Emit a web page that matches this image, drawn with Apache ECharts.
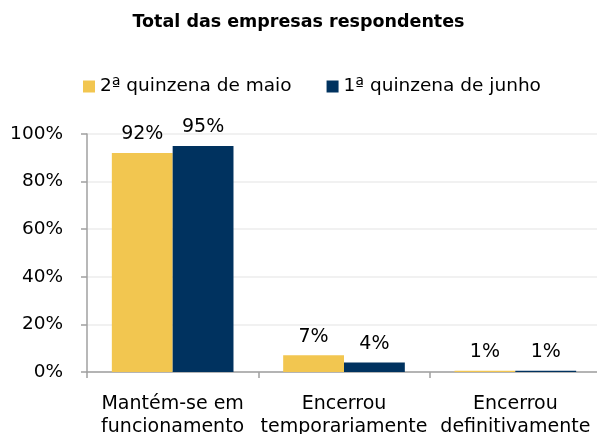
<!DOCTYPE html>
<html>
<head>
<meta charset="utf-8">
<script src="https://cdn.jsdelivr.net/npm/echarts@6/dist/echarts.min.js"></script>
<style>
html,body{margin:0;padding:0;background:#fff;}
#chart{width:597px;height:434px;}
</style>
</head>
<body>
<div id="chart"></div>
<script>
const titleText = 'Total das empresas respondentes';
const categories = ['Mantém-se em\nfuncionamento', 'Encerrou\ntemporariamente', 'Encerrou\ndefinitivamente'];
const seriesNames = ['2ª quinzena de maio', '1ª quinzena de junho'];
const maioValues = [92, 7, 0.5];
const junhoValues = [95, 4, 0.5];
const yTicks = [0, 20, 40, 60, 80, 100];
const colors = ['#F2C650', '#00325F'];

const FONT = "'DejaVu Sans', sans-serif";
const chart = echarts.init(document.getElementById('chart'), null, {renderer: 'canvas'});

function labelCfg() {
  return {
    show: true,
    position: 'top',
    distance: 9,
    fontFamily: FONT,
    fontSize: 19,
    color: '#000',
    formatter: p => Math.round(p.value) + '%'
  };
}

chart.setOption({
  animation: false,
  backgroundColor: '#fff',
  title: {
    text: titleText,
    left: 'center',
    top: 8,
    textStyle: {fontFamily: FONT, fontSize: 17.5, fontWeight: 'bold', color: '#000'}
  },
  legend: {
    data: seriesNames,
    left: 83,
    top: 77,
    padding: 0,
    itemWidth: 12,
    itemHeight: 12,
    itemGap: 35,
    icon: 'rect',
    textStyle: {fontFamily: FONT, fontSize: 18.5, color: '#000'}
  },
  grid: {left: 87, top: 134, width: 514, height: 238, containLabel: false, outerBoundsMode: 'none'},
  xAxis: {
    type: 'category',
    data: categories,
    axisLine: {lineStyle: {color: '#A0A0A0', width: 1.5}},
    axisTick: {show: true, alignWithLabel: false, length: 6, lineStyle: {color: '#A0A0A0', width: 1.5}},
    axisLabel: {fontFamily: FONT, fontSize: 19, color: '#000', margin: 21, lineHeight: 23, interval: 0}
  },
  yAxis: {
    type: 'value',
    min: yTicks[0],
    max: yTicks[yTicks.length - 1],
    interval: 20,
    axisLine: {show: true, lineStyle: {color: '#A0A0A0', width: 1.5}},
    axisTick: {show: true, length: 6, lineStyle: {color: '#A0A0A0', width: 1.5}},
    axisLabel: {fontFamily: FONT, fontSize: 18.5, color: '#000', margin: 24, formatter: v => v + '%'},
    splitLine: {lineStyle: {color: '#EDEDED', width: 1.5}}
  },
  series: [
    {name: seriesNames[0], type: 'bar', data: maioValues, itemStyle: {color: colors[0]},
     barGap: '0%', barCategoryGap: '29%', label: labelCfg()},
    {name: seriesNames[1], type: 'bar', data: junhoValues, itemStyle: {color: colors[1]},
     barGap: '0%', barCategoryGap: '29%', label: labelCfg()}
  ]
});
</script>
</body>
</html>
